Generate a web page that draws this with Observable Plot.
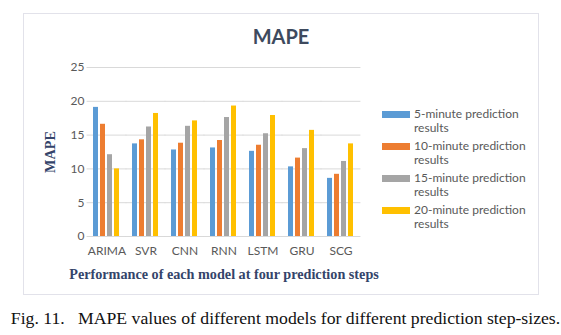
<!DOCTYPE html>
<html>
<head>
<meta charset="utf-8">
<script src="https://cdn.jsdelivr.net/npm/d3@7"></script>
<script src="https://cdn.jsdelivr.net/npm/@observablehq/plot@0.6"></script>
<style>
  html, body { margin: 0; padding: 0; background: #fff; }
  #wrap { position: relative; width: 561px; height: 335px; overflow: hidden; background: #fff; }
  #box { position: absolute; left: 23px; top: 13px; width: 514px; height: 280px; border: 1.5px solid #e2e2ea; }
  #chart { position: absolute; left: 0; top: 0; }
  #title { position: absolute; left: 181px; width: 200px; top: 22px; text-align: center;
           font: bold 20px Lato, "Open Sans", sans-serif; color: #3e4a5e; line-height: 28px; }
  #legend { position: absolute; left: 382px; top: 107px; font: 12px Lato, "Open Sans", sans-serif; color: #595959; }
  .item { display: flex; align-items: flex-start; height: 32px; }
  .sw { width: 28px; height: 7px; margin-top: 4px; margin-right: 4px; flex: none; }
  .lab { line-height: 14px; }
  #caption { position: absolute; left: 0; width: 571px; top: 308px; text-align: center;
             font: 17.7px "Liberation Serif", "Times New Roman", serif; color: #111; white-space: nowrap; }
  #chart text { font-family: Lato, "Open Sans", sans-serif; }
  #chart g[aria-label="y-axis label"] text, #chart g[aria-label="fx-axis label"] text {
    font-family: "Liberation Serif", "Times New Roman", serif; font-weight: bold; font-size: 14.2px; fill: #34446a;
  }
</style>
</head>
<body>
<div id="wrap">
  <div id="box"></div>
  <div id="chart"></div>
  <div id="title">MAPE</div>
  <div id="legend"></div>
  <div id="caption">Fig. 11.&nbsp;&nbsp; MAPE values of different models for different prediction step-sizes.</div>
</div>
<script>
const models = ["ARIMA", "SVR", "CNN", "RNN", "LSTM", "GRU", "SCG"];
const seriesNames = ["5-minute prediction results", "10-minute prediction results", "15-minute prediction results", "20-minute prediction results"];
const seriesColors = ["#5b9bd5", "#ed7d31", "#a5a5a5", "#ffc000"];
const mape5 = [19.1, 13.7, 12.8, 13.1, 12.6, 10.3, 8.6];
const mape10 = [16.6, 14.3, 13.8, 14.2, 13.5, 11.6, 9.2];
const mape15 = [12.1, 16.2, 16.3, 17.6, 15.2, 13.0, 11.1];
const mape20 = [10.0, 18.2, 17.1, 19.3, 17.9, 15.7, 13.7];
const yTicks = [0, 5, 10, 15, 20, 25];

const seriesValues = [mape5, mape10, mape15, mape20];
const data = [];
models.forEach((m, i) => {
  seriesNames.forEach((s, j) => data.push({model: m, series: s, value: seriesValues[j][i]}));
});

// group spacing for the facet scale
const fxPadInner = 0.3, fxPadOuter = fxPadInner / 2;
const plotW = 561, mL = 85, mR = 199;
const step = (plotW - mL - mR) / models.length;
const gapHalf = step * fxPadInner / 2;

const chart = Plot.plot({
  width: plotW,
  height: 300,
  marginLeft: mL,
  marginRight: mR,
  marginTop: 67,
  marginBottom: 64,
  style: {background: "transparent", fontSize: "12px", color: "#595959", overflow: "visible"},
  fx: {domain: models, paddingInner: fxPadInner, paddingOuter: fxPadOuter, label: "Performance of each model at four prediction steps",
       labelAnchor: "center", labelOffset: 42, tickSize: 0, tickPadding: 10, axis: "bottom"},
  x: {domain: seriesNames, paddingInner: 0.25, paddingOuter: 0, axis: null},
  y: {domain: [0, 25], ticks: yTicks, tickSize: 0, tickPadding: 9, label: "MAPE", labelAnchor: "center",
      labelOffset: 49, labelArrow: "none"},
  color: {domain: seriesNames, range: seriesColors},
  marks: [
    Plot.ruleY(yTicks, {stroke: "#d9d9d9", strokeWidth: 1, insetLeft: -gapHalf - 0.5, insetRight: -gapHalf - 0.5}),
    Plot.barY(data, {fx: "model", x: "series", y: "value", fill: "series"})
  ]
});
document.getElementById("chart").appendChild(chart);

const legend = document.getElementById("legend");
seriesNames.forEach((s, j) => {
  const item = document.createElement("div");
  item.className = "item";
  const sw = document.createElement("div");
  sw.className = "sw";
  sw.style.background = seriesColors[j];
  const lab = document.createElement("div");
  lab.className = "lab";
  const parts = s.split(" ");
  lab.innerHTML = parts.slice(0, 2).join(" ") + "<br>" + parts.slice(2).join(" ");
  item.appendChild(sw);
  item.appendChild(lab);
  legend.appendChild(item);
});
</script>
</body>
</html>
